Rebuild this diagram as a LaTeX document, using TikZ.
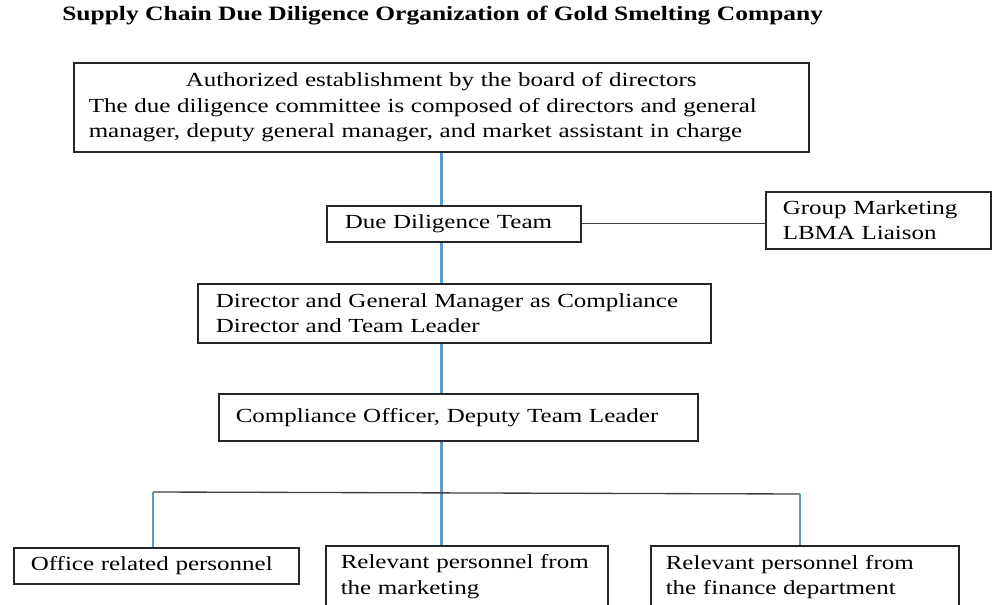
\documentclass[tikz,border=0pt]{standalone}
\usepackage{fontspec}
\setmainfont{Liberation Serif}[FakeStretch=1.25]
\definecolor{lineblue}{HTML}{5B9BD5}
\definecolor{boxline}{HTML}{262626}
\begin{document}
\begin{tikzpicture}[x=0.75pt,y=-0.75pt,
  font=\fontsize{15}{19}\selectfont,
  box/.style={draw=boxline, line width=1.15pt, inner ysep=0pt, align=left, anchor=north west},
  bline/.style={draw=lineblue, line width=2pt},
  pline/.style={draw=black!75, line width=1pt},
  title/.style={font=\fontsize{15.3}{18}\selectfont\bfseries, anchor=base west, inner sep=0pt}]
\useasboundingbox (0,0) rectangle (992,605);
\clip (0,0) rectangle (992,605);
\fill[white] (0,0) rectangle (992,605);

\node[title] (t) at (62,21) {Supply Chain Due Diligence Organization of Gold Smelting Company};

\node[box, inner xsep=11.25pt, text width=528.75pt, minimum height=66.75pt] (b1) at (73,62)
  {\makebox[\linewidth]{Authorized establishment by the board of directors}\\
   The due diligence committee is composed of directors and general\\
   manager, deputy general manager, and market assistant in charge};

\node[box, inner xsep=13.5pt, text width=163.5pt, minimum height=27pt] (b2) at (326,205)
  {Due Diligence Team};

\node[box, inner xsep=12.75pt, text width=143.25pt, minimum height=42.75pt] (b3) at (765,191)
  {Group Marketing\\LBMA Liaison};

\node[box, inner xsep=13.5pt, text width=357.75pt, minimum height=44.25pt] (b4) at (197,283)
  {Director and General Manager as Compliance\\Director and Team Leader};

\node[box, inner xsep=12.75pt, text width=333.75pt, minimum height=35.25pt] (b5) at (218,393)
  {Compliance Officer, Deputy Team Leader};

\node[box, inner xsep=12.75pt, text width=188.25pt, minimum height=27pt] (b6) at (13,547)
  {Office related personnel};

\node[box, inner xsep=11.25pt, text width=189pt, minimum height=46.5pt] (b7) at (325,545)
  {Relevant personnel from\\the marketing};

\node[box, inner xsep=11.25pt, text width=208.5pt, minimum height=46.5pt] (b8) at (650,545)
  {Relevant personnel from\\the finance department};

\coordinate (jl) at (153,492);
\coordinate (jr) at (800,494);

\draw[bline] (b1.south) -- (b2.north -| b1.south);
\draw[bline] (b2.south -| b1.south) -- (b4.north -| b1.south);
\draw[bline] (b4.south -| b1.south) -- (b5.north -| b1.south);
\draw[bline] (b5.south -| b1.south) -- (b7.north -| b1.south);
\draw[pline] (b2.east) -- (b2.east -| b3.west);
\draw[pline] (jl) -- (jr);
\draw[bline] (jl) -- (b6.north -| jl);
\draw[bline] (jr) -- (b8.north -| jr);
\end{tikzpicture}
\end{document}
